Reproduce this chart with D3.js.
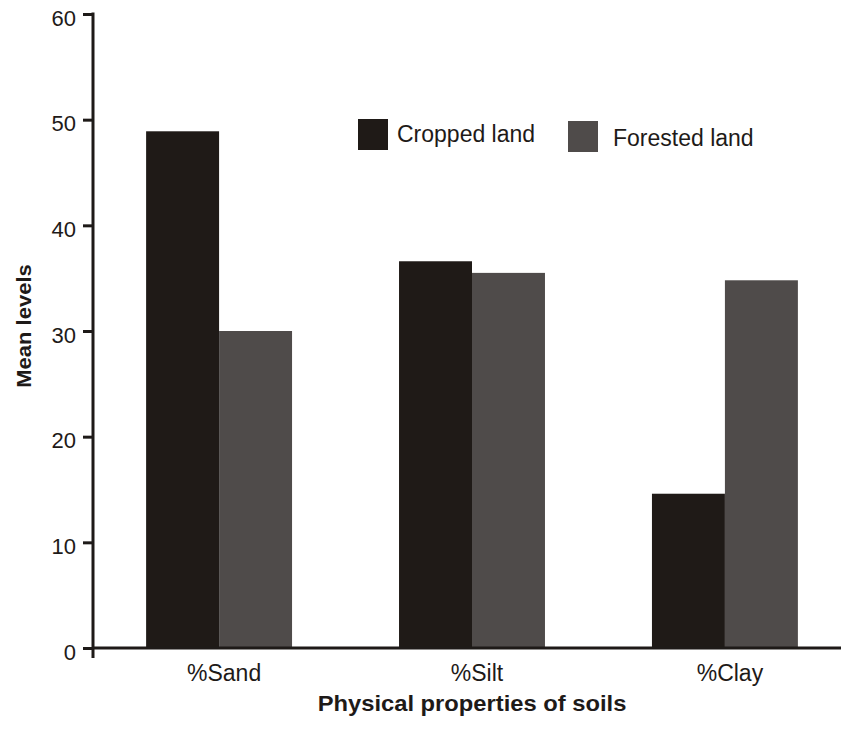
<!DOCTYPE html>
<html>
<head>
<meta charset="utf-8">
<script src="https://cdn.jsdelivr.net/npm/d3@7/dist/d3.min.js"></script>
<style>
  html, body { margin: 0; padding: 0; background: #ffffff; }
  svg { display: block; }
  text { font-family: Arial, "Liberation Sans", sans-serif; fill: #1e1a18; }
</style>
</head>
<body>
<svg id="chart" width="841" height="742"></svg>
<script>
const categories = ["%Sand", "%Silt", "%Clay"];
const seriesNames = ["Cropped land", "Forested land"];
const croppedValues = [48.9, 36.6, 14.6];
const forestedValues = [30.0, 35.5, 34.8];
const yTicks = [0, 10, 20, 30, 40, 50, 60];
const xTitle = "Physical properties of soils";
const yTitle = "Mean levels";

const colors = { "Cropped land": "#1f1a17", "Forested land": "#4f4b4a" };
const axisColor = "#1e1a18";

const svg = d3.select("#chart");

const y = d3.scaleLinear().domain([0, 60]).range([648, 14]);
const x0 = d3.scaleBand().domain(categories).range([93, 851])
  .paddingInner(0.423).paddingOuter(0.21);
const x1 = d3.scaleBand().domain(seriesNames).range([0, x0.bandwidth()]).padding(0);

const rows = categories.map((c, i) => ({
  category: c,
  values: [
    { series: seriesNames[0], value: croppedValues[i] },
    { series: seriesNames[1], value: forestedValues[i] }
  ]
}));

// Bars
const groups = svg.append("g").selectAll("g").data(rows).join("g")
  .attr("transform", d => `translate(${x0(d.category)},0)`);
groups.selectAll("rect").data(d => d.values).join("rect")
  .attr("x", d => x1(d.series))
  .attr("width", x1.bandwidth())
  .attr("y", d => y(d.value))
  .attr("height", d => y(0) - y(d.value))
  .attr("fill", d => colors[d.series]);

// Y axis
const yAxis = svg.append("g")
  .attr("transform", "translate(93,0)")
  .call(d3.axisLeft(y).tickValues(yTicks).tickSize(10).tickSizeOuter(0).tickPadding(7));
yAxis.select(".domain").remove();
yAxis.selectAll(".tick line").attr("stroke", axisColor).attr("stroke-width", 3);
yAxis.selectAll(".tick text")
  .attr("font-size", 22)
  .attr("font-family", "Arial, 'Liberation Sans', sans-serif")
  .attr("fill", "#2a2624")
  .attr("dy", "0.5em");
svg.append("line")
  .attr("x1", 93).attr("x2", 93)
  .attr("y1", y(60) - 1.5).attr("y2", 658)
  .attr("stroke", axisColor).attr("stroke-width", 3);

// X axis
const xAxis = svg.append("g")
  .attr("transform", `translate(0,${y(0)})`)
  .call(d3.axisBottom(x0).tickSize(0).tickPadding(0));
xAxis.select(".domain").remove();
xAxis.selectAll(".tick text")
  .attr("font-size", 23)
  .attr("font-family", "Arial, 'Liberation Sans', sans-serif")
  .attr("fill", "#2a2624")
  .attr("dx", 5)
  .attr("y", 33)
  .attr("dy", 0);
svg.append("line")
  .attr("x1", 92).attr("x2", 841)
  .attr("y1", y(0)).attr("y2", y(0))
  .attr("stroke", axisColor).attr("stroke-width", 3);

// Legend
const legendItems = [
  { name: seriesNames[0], rx: 358, ry: 119, tx: 397, ty: 142 },
  { name: seriesNames[1], rx: 568, ry: 121, tx: 613, ty: 146 }
];
const lg = svg.append("g").selectAll("g").data(legendItems).join("g");
lg.append("rect")
  .attr("x", d => d.rx).attr("y", d => d.ry)
  .attr("width", 30).attr("height", 31)
  .attr("fill", d => colors[d.name]);
lg.append("text")
  .attr("x", d => d.tx).attr("y", d => d.ty)
  .attr("font-size", 23)
  .attr("fill", "#2a2624")
  .text(d => d.name);

// Axis titles
svg.append("text")
  .attr("transform", "translate(472,711) scale(1.08,1)")
  .attr("text-anchor", "middle")
  .attr("font-size", 22)
  .attr("font-weight", "bold")
  .attr("fill", "#111")
  .text(xTitle);

svg.append("text")
  .attr("transform", "translate(31,326) rotate(-90) scale(1.1,1)")
  .attr("text-anchor", "middle")
  .attr("font-size", 20)
  .attr("font-weight", "bold")
  .attr("fill", "#111")
  .text(yTitle);
</script>
</body>
</html>
